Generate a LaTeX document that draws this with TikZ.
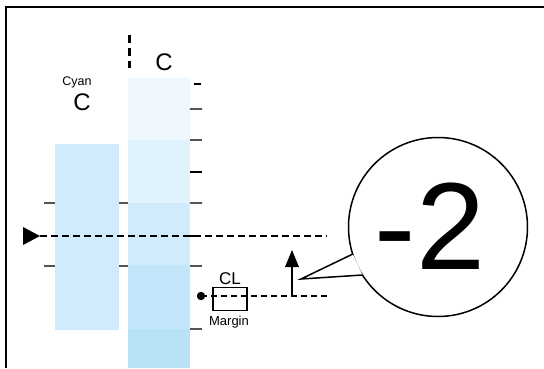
\documentclass[tikz,border=0pt]{standalone}
\usepackage{fontspec}
\setmainfont{Liberation Sans}
\definecolor{bA}{HTML}{EEF7FD}
\definecolor{bB}{HTML}{E0F2FC}
\definecolor{bC}{HTML}{D0EBFC}
\definecolor{bD}{HTML}{C4E6FA}
\definecolor{bE}{HTML}{B8E2F8}
\definecolor{tickgray}{HTML}{555555}
\tikzset{
  tick/.style={line width=1.2pt,tickgray},
  guide/.style={line width=1.3pt,dash pattern=on 7pt off 4pt},
  lbl/.style={inner sep=0pt,font=\fontsize{#1}{#1}\selectfont},
}
\begin{document}
\begin{tikzpicture}[x=1pt,y=-1pt]
\useasboundingbox (0,0) rectangle (544,368);
% frame (open at right and bottom)
\draw[line width=2pt] (6,368) -- (6,7) -- (544,7);
% left bar
\fill[bC] (55,144) rectangle (119,330);
% right bar bands
\fill[bA] (128,78) rectangle (190,140);
\fill[bB] (128,140) rectangle (190,203);
\fill[bC] (128,203) rectangle (190,265);
\fill[bD] (128,265) rectangle (190,329);
\fill[bE] (128,329) rectangle (190,368);
% ticks on right of right bar
\draw[line width=2.5pt] (194,84) -- (201,84);
\draw[tick] (190,109) -- (202,109);
\draw[tick] (190,140) -- (202,140);
\draw[tick,black] (190,172) -- (202,172);
\draw[tick] (190,203) -- (202,203);
\draw[tick] (190,266) -- (202,266);
\draw[tick] (190,329) -- (202,329);
% ticks near left bar
\draw[tick] (44,203) -- (55,203);
\draw[tick] (119,203) -- (128,203);
\draw[tick] (44,266) -- (55,266);
\draw[tick] (119,266) -- (128,266);
% top vertical dashed
\draw[line width=3.5pt,dash pattern=on 8pt off 5pt] (129.5,35) -- (129.5,68);
% labels
\node[lbl=24] (cR) at (164,62) {C};
\node[lbl=12.5] (cyan) at (77,82) {Cyan};
\node[lbl=24] (cL) at (82,102) {C};
% main dashed line with triangle
\coordinate (dl) at (40,236);
\coordinate (dr) at (327,236);
\fill (23,227) -- (40,236) -- (23,245) -- cycle;
\draw[guide] (dl) -- (dr);
\draw[line width=1.5pt] (190,236) -- (201,236);
% CL margin
\node[draw,line width=1.3pt,minimum width=34pt,minimum height=23pt,inner sep=0pt] (clbox) at (230,299) {};
\fill (201,296) circle (4.2);
\coordinate (dot) at (201,296);
\coordinate (cr) at (327,296);
\draw[line width=1.2pt,dash pattern=on 6pt off 4pt] (dot) -- (cr);
\node[lbl=17,anchor=south] (cl) at (230,285) {CL};
\node[lbl=13,anchor=north] (margin) at (229,316) {Margin};
% arrow
\coordinate (a0) at (292,296);
\coordinate (a1) at (292,250);
\draw[line width=1.3pt] (a0) -- (292,264);
\fill (a1) -- (285,267) -- (299,267) -- cycle;
% speech bubble
\coordinate (bc) at (438,227);
\draw[line width=1.5pt,fill=white] (bc) circle (89.5);
\coordinate (t1) at (352.8,254);
\coordinate (tip) at (301,279);
\coordinate (t2) at (362.5,275);
\fill[white] (t1) -- (tip) -- (t2) -- cycle;
\draw[line width=1.5pt,line join=miter] (t1) -- (tip) -- (t2);
\node[lbl=124] (num) at (430,226) {-2};
\end{tikzpicture}
\end{document}
